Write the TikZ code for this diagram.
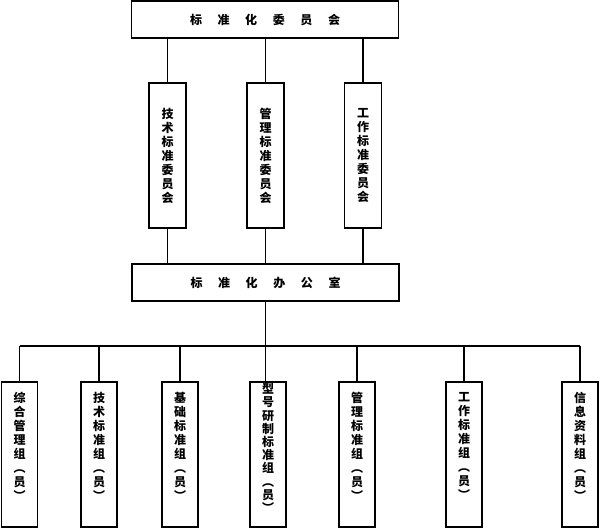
\documentclass[tikz,border=0pt]{standalone}
\usepackage{fontspec}
\newfontfamily\cjk{Noto Sans CJK SC}
\newcommand\gp{\hspace{15.6pt}}
\begin{document}
\begin{tikzpicture}[x=1pt,y=-1pt,
  box/.style={draw, line width=1.1pt, inner sep=0pt},
  hbox/.style={box, minimum width=267pt, minimum height=37pt, font=\cjk\bfseries\fontsize{12}{14}\selectfont},
  mbox/.style={box, minimum width=37pt, minimum height=145pt},
  bbox/.style={box, minimum width=36pt, minimum height=145pt},
  vtext/.style={align=center, inner sep=0pt, font=\cjk\bfseries\fontsize{12}{14}\selectfont},
  link/.style={line width=1.1pt}]
\useasboundingbox (0,0) rectangle (600,529);
% top
\node[hbox] (top) at (265,19.5) {标\gp{}准\gp{}化\gp{}委\gp{}员\gp{}会};
% middle committees
\node[mbox] (m1) at (167.5,155.5) {};
\node[mbox] (m2) at (265.5,155.5) {};
\node[mbox] (m3) at (363,155.5) {};
\node[vtext] (mt1) at (m1.center) {技\\术\\标\\准\\委\\员\\会};
\node[vtext] (mt2) at (m2.center) {管\\理\\标\\准\\委\\员\\会};
\node[vtext] (mt3) at (m3.center) {工\\作\\标\\准\\委\\员\\会};
% office
\node[hbox] (off) at (265.5,282.5) {标\gp{}准\gp{}化\gp{}办\gp{}公\gp{}室};
% links top -> middle -> office
\foreach \m in {m1,m2,m3}{
  \draw[link] (\m.north |- top.south) -- (\m.north);
  \draw[link] (\m.south) -- (\m.south |- off.north);
}
% bottom groups
\node[bbox] (b1) at (19.5,454.5) {};
\node[bbox] (b2) at (99,454.5) {};
\node[bbox] (b3) at (180,454.5) {};
\node[bbox] (b4) at (268,454.5) {};
\node[bbox] (b5) at (357,454.5) {};
\node[bbox] (b6) at (464,454.5) {};
\node[bbox] (b7) at (580,454.5) {};
\node[vtext] (bt1) at ([yshift=8.5pt]b1.center) {综\\合\\管\\理\\组\\︵\\员\\︶};
\node[vtext] (bt2) at ([yshift=8.5pt]b2.center) {技\\术\\标\\准\\组\\︵\\员\\︶};
\node[vtext] (bt3) at ([yshift=8.5pt]b3.center) {基\\础\\标\\准\\组\\︵\\员\\︶};
\node[vtext, font=\cjk\bfseries\fontsize{12}{13.2}\selectfont] (bt4) at ([yshift=6.5pt]b4.center) {型\\号\\研\\制\\标\\准\\组\\︵\\员\\︶};
\node[vtext] (bt5) at ([yshift=8.5pt]b5.center) {管\\理\\标\\准\\组\\︵\\员\\︶};
\node[vtext] (bt6) at ([yshift=8.5pt]b6.center) {工\\作\\标\\准\\组\\︵\\员\\︶};
\node[vtext] (bt7) at ([yshift=8.5pt]b7.center) {信\\息\\资\\料\\组\\︵\\员\\︶};
% bus
\coordinate (bus) at (265.5,346);
\draw[link] (off.south) -- (off.south |- b4.north);
\draw[link] (b1.north |- bus) -- (b7.north |- bus);
\foreach \b in {b1,b2,b3,b5,b6,b7}{
  \draw[link] (\b.north |- bus) -- (\b.north);
}
\end{tikzpicture}
\end{document}
